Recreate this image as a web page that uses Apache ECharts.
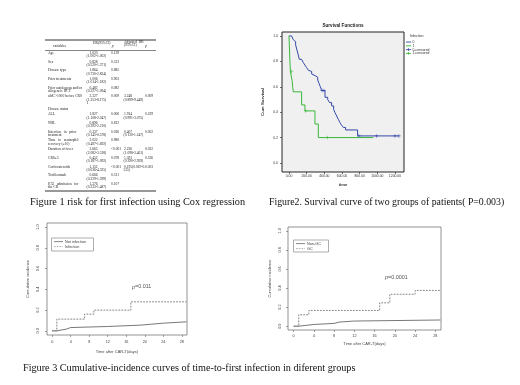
<!DOCTYPE html>
<html>
<head>
<meta charset="utf-8">
<script src="https://cdn.jsdelivr.net/npm/echarts@6/dist/echarts.min.js"></script>
<style>
  html, body { margin: 0; padding: 0; background: #fff; }
  #chart { width: 520px; height: 385px; }
</style>
</head>
<body>
<div id="chart"></div>
<script>
// ---- Figure 1 : Cox regression table (text only) ----
var tableHead = ['variables', 'HR(95%CI)', 'P', 'Adjusted  HR', '(95%CI)', 'P'];
var tableLabels = [
  ['Age'], ['Sex'], ['Disease type'], ['Prior treatments'],
  ['Prior autologous and/or', 'allogeneic HCT'], ['aIdC>1000 before CRS'],
  ['Disease status'], ['ALL'], ['NHL'], ['Infection   in   prior', 'treatment'],
  ['Time   to   neutrophil', 'recovery (≥10)'], ['Duration of fever'], ['CRS≥3'],
  ['Corticosteroids'], ['Tocilizumab'], ['ICU   admission   for', 'the CR']
];
var tableHR = ['1.020', '0.828', '1.864', '1.006', '0.482', '2.327', '', '1.827', '0.896', '0.337', '2.022', '2.665', '0.452', '1.152', '0.666', '1.376'];
var tableCI = ['(1.002-1.002)', '(0.520-1.371)', '(0.730-2.824)', '(1.014-1.182)', '(0.227-1.094)', '(1.353-8.175)', '', '(1.108-2.047)', '(0.392-2.210)', '(0.145-0.578)', '(0.497-1.692)', '(2.082-3.318)', '(0.187-1.092)', '(0.036-4.325)', '(0.229-1.599)', '(0.333-1.487)'];
var tableP = ['0.139', '0.313', '0.885', '0.903', '0.082', '0.009', '', '0.006', '0.812', '0.026', '0.980', '<0.001', '0.078', '<0.001', '0.311', '0.107'];
var tableAdjHR = ['', '', '', '', '', '3.248', '', '1.914', '', '0.407', '', '2.236', '1.391', '0.195(0.067-0.', '', ''];
var tableAdjCI = ['', '', '', '', '', '(0.899-9.449)', '', '(0.991-3.075)', '', '(0.130-1.247)', '', '(1.098-3.461)', '(0.390-2.959)', '535)', '', ''];
var tableAdjP = ['', '', '', '', '', '0.009', '', '0.229', '', '0.002', '', '0.032', '0.526', '0.003', '', ''];

// ---- Figure 2 : Kaplan-Meier survival (SPSS) ----
var survTime0 = [0, 30, 49, 60, 75, 90, 105, 117, 143, 162, 181, 200, 219, 238, 257, 275, 302, 325, 340, 355, 370, 408, 438, 460, 483, 506, 521, 540, 558, 577, 596, 615, 641, 777, 1245];
var survProb0 = [1, 0.99, 0.97, 0.955, 0.93, 0.89, 0.85, 0.816, 0.806, 0.79, 0.77, 0.75, 0.73, 0.72, 0.70, 0.685, 0.675, 0.653, 0.627, 0.60, 0.57, 0.517, 0.50, 0.475, 0.449, 0.42, 0.396, 0.37, 0.344, 0.318, 0.297, 0.28, 0.26, 0.213, 0.213];
var survTime1 = [0, 4, 8, 12, 16, 35, 42, 49, 143, 181, 294, 332, 955];
var survProb1 = [1, 0.93, 0.85, 0.78, 0.72, 0.65, 0.60, 0.56, 0.457, 0.41, 0.307, 0.20, 0.20];
var censTime0 = [375, 396, 792, 992, 1200, 1245];
var censProb0 = [0.57, 0.57, 0.213, 0.213, 0.213, 0.213];
var censTime1 = [30, 189, 438];
var censProb1 = [0.72, 0.41, 0.20];
var survXTicks = [0, 200, 400, 600, 800, 1000, 1200];
var survYTicks = [0, 0.2, 0.4, 0.6, 0.8, 1.0];
var survLegend = ['0', '1', '0-censored', '1-censored'];

// ---- Figure 3 : cumulative incidence (R) ----
var ciDays = [0, 4, 8, 12, 16, 20, 24, 28];
var ciYTicks = [0, 0.2, 0.4, 0.6, 0.8, 1.0];
var notInfDay = [0, 1, 3, 4, 12, 19, 24, 29];
var notInfVal = [0, 0.016, 0.032, 0.042, 0.055, 0.074, 0.087, 0.087];
var infDay = [0, 1, 7, 9, 17, 29];
var infVal = [0, 0.113, 0.161, 0.20, 0.28, 0.28];
var nonGcDay = [0, 1, 4, 8, 9, 12, 29];
var nonGcVal = [0, 0.018, 0.029, 0.043, 0.054, 0.065, 0.065];
var gcDay = [0, 1, 3, 17, 19, 24, 29];
var gcVal = [0, 0.12, 0.165, 0.245, 0.335, 0.375, 0.375];

function pairs(xs, ys) { return xs.map(function (x, i) { return [x, ys[i]]; }); }

var chart = echarts.init(document.getElementById('chart'));
var serif = 'Liberation Serif';
var sans = 'Liberation Sans';
var plusSym = 'path://M4,0h2v4h4v2h-4v4h-2v-4h-4v-2h4z';
var blue = '#3448a8', green = '#3ab83a';

// table graphics
var g = [];
var tx = { label: 48, hr: 89.5, ci: 86.5, p: 111, ahr: 124, aci: 123.5, ap: 145 };
function t(x, y, s, extra) {
  var st = { x: x, y: y, text: s, font: '3.6px ' + serif, fill: '#222', textVerticalAlign: 'middle' };
  if (extra) for (var k in extra) st[k] = extra[k];
  g.push({ type: 'text', silent: true, style: st });
}
function hline(x1, x2, y, w) {
  g.push({ type: 'line', silent: true, shape: { x1: x1, y1: y, x2: x2, y2: y }, style: { stroke: '#333', lineWidth: w || 0.8 } });
}
hline(45, 156, 40, 1);
hline(45, 156, 50.5, 0.6);
hline(45, 156, 191, 1);
t(53, 46.5, tableHead[0]);
t(93, 43.5, tableHead[1]);
t(111.5, 47, tableHead[2], { font: 'italic 3.6px ' + serif });
t(124, 42.5, tableHead[3]);
t(124, 45, tableHead[4]);
t(145, 47, tableHead[5], { font: 'italic 3.6px ' + serif });
var lineH = 3.4;
var y = 53;
tableLabels.forEach(function (lab, i) {
  lab.forEach(function (s, j) { t(tx.label, y + j * lineH, s); });
  if (tableHR[i]) { t(tx.hr, y, tableHR[i]); t(tx.ci, y + lineH, tableCI[i]); t(tx.p, y, tableP[i]); }
  if (tableAdjHR[i]) { t(tx.ahr, y, tableAdjHR[i]); t(tx.aci, y + lineH, tableAdjCI[i]); t(tx.ap, y, tableAdjP[i]); }
  var n = Math.max(lab.length, tableHR[i] ? 2 : 1);
  if (i === 5) { t(tx.ci, y + 2 * lineH, '1'); n = 3; }
  y += n * lineH + (n === 1 ? 2.4 : 1.9);
});

// captions
g.push({ type: 'text', silent: true, style: { x: 30, y: 202, text: 'Figure 1 risk for first infection using Cox regression', font: '10.3px ' + serif, fill: '#111', textVerticalAlign: 'middle' } });
g.push({ type: 'text', silent: true, style: { x: 269, y: 202, text: 'Figure2. Survival curve of two groups of patients( P=0.003)', font: '9.8px ' + serif, fill: '#111', textVerticalAlign: 'middle' } });
g.push({ type: 'text', silent: true, style: { x: 23, y: 368, text: 'Figure 3 Cumulative-incidence curves of time-to-first infection in diferent groups', font: '10.2px ' + serif, fill: '#111', textVerticalAlign: 'middle' } });

// SPSS title + legend
g.push({ type: 'text', silent: true, style: { x: 343, y: 25.5, text: 'Survival Functions', font: 'bold 4.6px ' + sans, fill: '#222', textAlign: 'center', textVerticalAlign: 'middle' } });
g.push({ type: 'text', silent: true, style: { x: 410, y: 35.5, text: 'Infection', font: '3.6px ' + sans, fill: '#333', textVerticalAlign: 'middle' } });
var legCols = [blue, green, blue, green];
survLegend.forEach(function (s, i) {
  var ly = 42 + i * 3.8;
  g.push({ type: 'line', silent: true, shape: { x1: 406, y1: ly, x2: 411, y2: ly }, style: { stroke: legCols[i], lineWidth: 0.9 } });
  if (i >= 2) g.push({ type: 'line', silent: true, shape: { x1: 408.5, y1: ly - 1.3, x2: 408.5, y2: ly + 1.3 }, style: { stroke: legCols[i], lineWidth: 0.8 } });
  g.push({ type: 'text', silent: true, style: { x: 412.5, y: ly, text: s, font: '3.4px ' + sans, fill: '#333', textVerticalAlign: 'middle' } });
});

// R legends and p values
function rLegend(x, y0, w, h, names) {
  g.push({ type: 'rect', silent: true, shape: { x: x, y: y0, width: w, height: h }, style: { fill: 'none', stroke: '#777', lineWidth: 0.6 } });
  names.forEach(function (s, i) {
    var ly = y0 + 3.6 + i * 5;
    g.push({ type: 'line', silent: true, shape: { x1: x + 2.5, y1: ly, x2: x + 11.5, y2: ly }, style: { stroke: i ? '#888' : '#555', lineWidth: 0.7, lineDash: i ? [1.6, 1.2] : null } });
    g.push({ type: 'text', silent: true, style: { x: x + 13.5, y: ly, text: s, font: '3.8px ' + sans, fill: '#444', textVerticalAlign: 'middle' } });
  });
}
rLegend(51.5, 238, 42, 13, ['Not infection', 'Infection']);
rLegend(293.5, 240, 35, 12, ['Non-GC', 'GC']);
g.push({ type: 'text', silent: true, style: { x: 132, y: 287, text: '{i|p}=0.011', font: '5.4px ' + sans, fill: '#555', textVerticalAlign: 'middle', rich: { i: { font: 'italic 5.4px ' + sans, fill: '#555' } } } });
g.push({ type: 'text', silent: true, style: { x: 385, y: 277.5, text: '{i|p}=0.0001', font: '5.4px ' + sans, fill: '#555', textVerticalAlign: 'middle', rich: { i: { font: 'italic 5.4px ' + sans, fill: '#555' } } } });

function rX(gi, nameGap, margin) {
  return {
    type: 'value', gridIndex: gi, min: -1.12, max: 29.12,
    name: 'Time after CAR-T(days)', nameLocation: 'middle', nameGap: nameGap,
    nameTextStyle: { fontFamily: sans, fontSize: 4, color: '#444' },
    axisLine: { show: false, onZero: false },
    axisTick: { show: true, length: 2, lineStyle: { color: '#666', width: 0.6 }, customValues: ciDays },
    axisLabel: { fontFamily: sans, fontSize: 3.8, color: '#444', margin: margin, customValues: ciDays },
    splitLine: { show: false }
  };
}
function rY(gi, nameGap, margin) {
  return {
    type: 'value', gridIndex: gi, min: -0.04, max: 1.04,
    name: 'Cumulative incidence', nameLocation: 'middle', nameGap: nameGap, nameRotate: 90,
    nameTextStyle: { fontFamily: sans, fontSize: 4, color: '#444' },
    axisLine: { show: false, onZero: false },
    axisTick: { show: true, length: 2, lineStyle: { color: '#666', width: 0.6 }, customValues: ciYTicks },
    axisLabel: { fontFamily: sans, fontSize: 3.8, color: '#444', margin: margin, rotate: 90, customValues: ciYTicks, formatter: function (v) { return v.toFixed(1); } },
    splitLine: { show: false }
  };
}
function step(name, xi, data, color, dashed) {
  return {
    name: name, type: 'line', xAxisIndex: xi, yAxisIndex: xi, step: 'end', showSymbol: false, symbol: 'none',
    data: data, lineStyle: { color: color, width: dashed ? 0.9 : 0.8, type: dashed ? [1.8, 1.2] : 'solid' }
  };
}

var option = {
  animation: false,
  backgroundColor: '#fff',
  grid: [
    { left: 282, top: 32, width: 122, height: 140, show: true, backgroundColor: '#f0f0f0', borderColor: '#222', borderWidth: 1 },
    { left: 47, top: 223, width: 140, height: 112, show: true, backgroundColor: '#fff', borderColor: '#666', borderWidth: 0.7 },
    { left: 288, top: 227, width: 153, height: 103, show: true, backgroundColor: '#fff', borderColor: '#666', borderWidth: 0.7 }
  ],
  xAxis: [
    {
      type: 'value', gridIndex: 0, min: -79, max: 1302,
      name: 'time', nameLocation: 'middle', nameGap: 11,
      nameTextStyle: { fontFamily: sans, fontSize: 4.2, fontWeight: 'bold', color: '#333' },
      axisLine: { show: false, onZero: false },
      axisTick: { show: true, length: 2, lineStyle: { color: '#333', width: 0.7 }, customValues: survXTicks },
      axisLabel: { fontFamily: sans, fontSize: 3.4, color: '#333', margin: 3, customValues: survXTicks, formatter: function (v) { return v.toFixed(2); } },
      splitLine: { show: false }
    },
    rX(1, 15, 4.5), rX(2, 11.5, 3.5)
  ],
  yAxis: [
    {
      type: 'value', gridIndex: 0, min: -0.071, max: 1.031,
      name: 'Cum Survival', nameLocation: 'middle', nameGap: 17, nameRotate: 90,
      nameTextStyle: { fontFamily: sans, fontSize: 4.4, fontWeight: 'bold', color: '#333' },
      axisLine: { show: false, onZero: false },
      axisTick: { show: true, length: 2, lineStyle: { color: '#333', width: 0.7 }, customValues: survYTicks },
      axisLabel: { fontFamily: sans, fontSize: 3.4, color: '#333', margin: 4, customValues: survYTicks, formatter: function (v) { return v.toFixed(1); } },
      splitLine: { show: false }
    },
    rY(1, 17, 7), rY(2, 16, 6)
  ],
  graphic: g,
  series: [
    { name: '0', type: 'line', xAxisIndex: 0, yAxisIndex: 0, step: 'end', symbol: 'none', data: pairs(survTime0, survProb0), lineStyle: { color: blue, width: 1 } },
    { name: '1', type: 'line', xAxisIndex: 0, yAxisIndex: 0, step: 'end', symbol: 'none', data: pairs(survTime1, survProb1), lineStyle: { color: green, width: 1 } },
    { name: '0-censored', type: 'scatter', xAxisIndex: 0, yAxisIndex: 0, symbol: plusSym, symbolSize: 3.5, data: pairs(censTime0, censProb0), itemStyle: { color: blue } },
    { name: '1-censored', type: 'scatter', xAxisIndex: 0, yAxisIndex: 0, symbol: plusSym, symbolSize: 3.5, data: pairs(censTime1, censProb1), itemStyle: { color: green } },
    step('Not infection', 1, pairs(notInfDay, notInfVal), '#555', false),
    step('Infection', 1, pairs(infDay, infVal), '#777', true),
    step('Non-GC', 2, pairs(nonGcDay, nonGcVal), '#555', false),
    step('GC', 2, pairs(gcDay, gcVal), '#777', true)
  ]
};
chart.setOption(option);
</script>
</body>
</html>
